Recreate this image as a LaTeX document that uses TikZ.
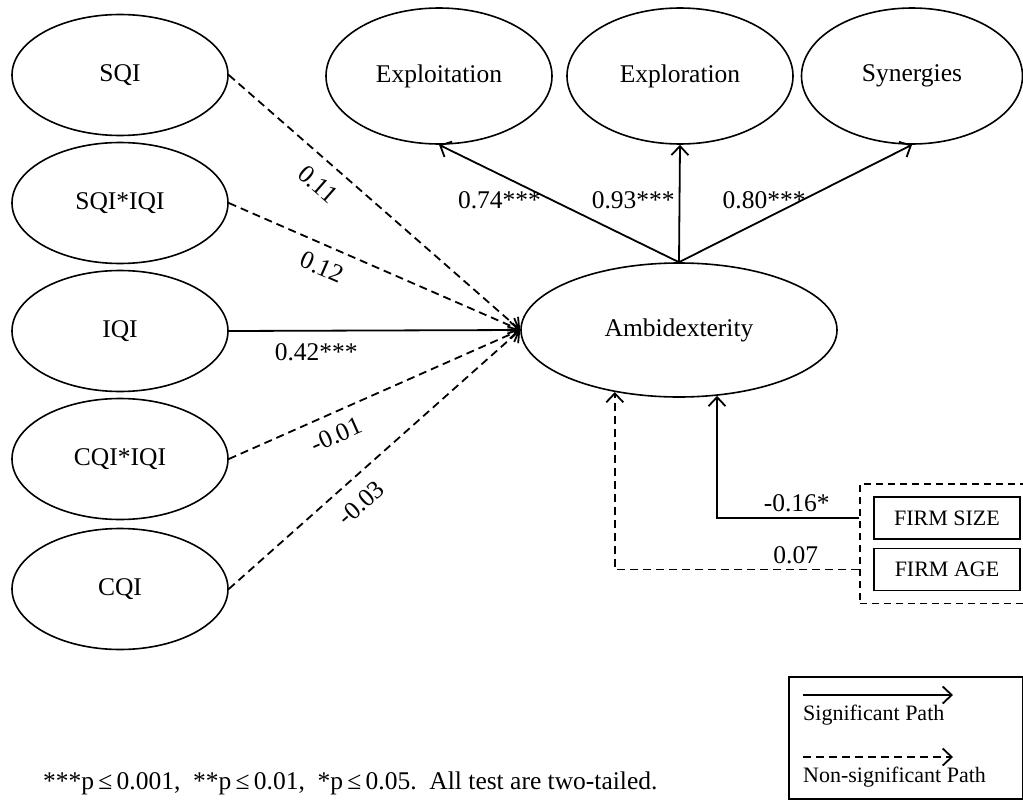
\documentclass[tikz,border=0pt]{standalone}
\usepackage{fontspec}
\setmainfont{Liberation Serif}
\usetikzlibrary{arrows.meta,positioning,fit,shapes.geometric}

\begin{document}
\begin{tikzpicture}[
    x=1pt, y=-1pt,
    font=\fontsize{25.5}{30}\selectfont,
    lat/.style={draw, ellipse, line width=1.6pt, inner sep=0pt},
    lefty/.style={lat, minimum width=216pt, minimum height=121pt},
    topy/.style={lat, minimum width=226pt, minimum height=136pt},
    ctrlbox/.style={draw, line width=1.8pt, minimum width=146pt, minimum height=42pt,
                    font=\fontsize{22}{26}\selectfont},
    sig/.style={-{Straight Barb[length=9pt, width=17pt]}, line width=1.8pt},
    nsig/.style={sig, dash pattern=on 8pt off 5pt},
    lab/.style={inner sep=2pt},
]
\useasboundingbox (0,0) rectangle (1023,803);

% Predictors
\node[lefty] (sqi)    at (120,75)  {SQI};
\node[lefty] (sqiiqi) at (120,203) {SQI*IQI};
\node[lefty] (iqi)    at (120,331) {IQI};
\node[lefty] (cqiiqi) at (120,459) {CQI*IQI};
\node[lefty] (cqi)    at (120,589) {CQI};

% Ambidexterity and its dimensions
\node[lat, minimum width=316pt, minimum height=134pt] (amb) at (679,330) {Ambidexterity};
\node[topy] (explt) at (439,76) {Exploitation};
\node[topy] (explr) at (680,76) {Exploration};
\node[topy, minimum width=221pt] (syn) at (912,76) {Synergies};

\draw[sig] (amb.north) -- node[lab, pos=0.53, left=8pt] {0.74***} (explt.south);
\draw[sig] (amb.north) -- node[lab, pos=0.53, left=2pt] {0.93***} (explr.south);
\draw[sig] (amb.north) -- node[lab, pos=0.53, left=-6pt] {0.80***} (syn.south);

% Paths into ambidexterity
\draw[nsig] (sqi.east) -- node[lab, sloped, pos=0.36, below=12pt] {0.11} (amb.west);
\draw[nsig] (sqiiqi.east) -- node[lab, sloped, pos=0.35, below=10pt] {0.12} (amb.west);
\draw[sig] (iqi.east) -- node[lab, pos=0.30, below=10pt] {0.42***} (amb.west);
\draw[nsig] (cqiiqi.east) -- node[lab, sloped, pos=0.34, below=10pt] {-0.01} (amb.west);
\draw[nsig] (cqi.east) -- node[lab, sloped, pos=0.40, below=12pt] {-0.03} (amb.west);

% Controls
\node[ctrlbox] (size) at (947,518) {FIRM SIZE};
\node[ctrlbox] (age) at (947,569.5) {FIRM AGE};
\node[draw, line width=1.5pt, dash pattern=on 7pt off 5pt, inner xsep=13pt, inner ysep=12pt,
      fit=(size)(age)] (ctrl) {};
\draw[sig] (ctrl.west |- size) -| node[lab, pos=0.22, above=3pt] {-0.16*} (amb.-60);
\draw[nsig] (ctrl.west |- age) -| node[lab, pos=0.13, above=3pt] {0.07} (amb.-136);

% Legend
\node[draw, line width=1.8pt, anchor=north west, minimum width=234pt, minimum height=122pt]
    (legend) at (788,676) {};
\coordinate (sa) at (803,695);
\coordinate (sb) at (953,695);
\coordinate (na) at (803,757);
\coordinate (nb) at (953,757);
\draw[sig] (sa) -- (sb);
\draw[nsig] (na) -- (nb);
\node[anchor=west, inner sep=0pt, font=\fontsize{22}{26}\selectfont] (sigtxt) at (803,715) {Significant Path};
\node[anchor=west, inner sep=0pt, font=\fontsize{22}{26}\selectfont] (nsigtxt) at (803,777) {Non-significant Path};

% Note
\node[anchor=west, inner sep=0pt] (note) at (43,783)
    {***p\,≤\,0.001,\ \ **p\,≤\,0.01,\ \ *p\,≤\,0.05.\ \ All test are two-tailed.};
\end{tikzpicture}
\end{document}
